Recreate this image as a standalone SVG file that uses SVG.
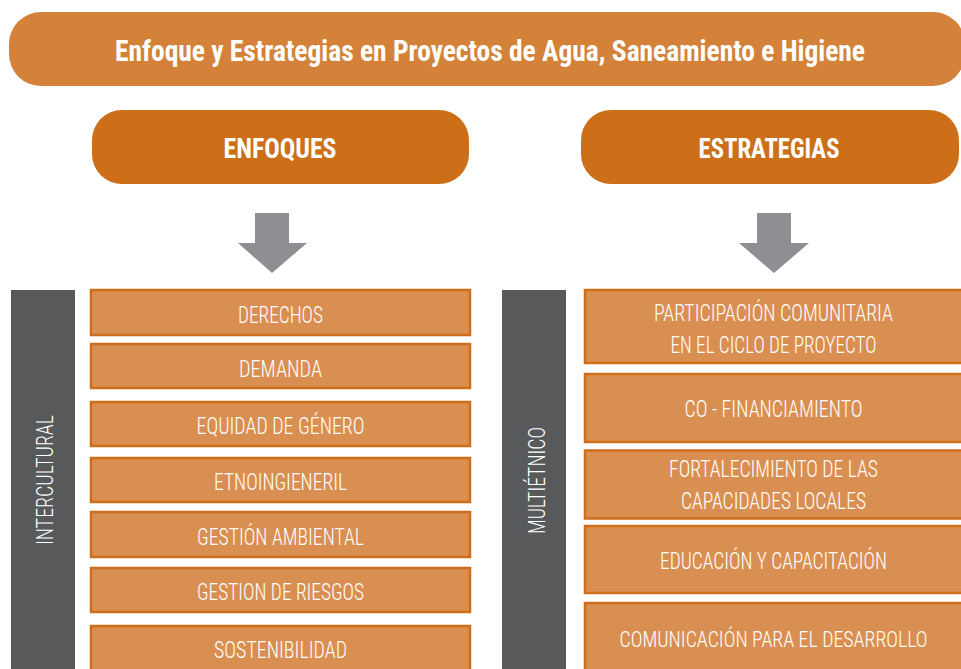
<svg xmlns="http://www.w3.org/2000/svg" width="961" height="669" viewBox="0 0 961 669">
<style>
.hdr{font-family:"Roboto Condensed","Noto Sans ExtraCondensed","Noto Sans Condensed","DejaVu Sans Condensed","Liberation Sans Narrow",sans-serif;font-stretch:condensed;font-weight:bold;fill:#ffffff;text-anchor:middle}
.itm{font-family:"Roboto Condensed","Noto Sans ExtraCondensed","Noto Sans Condensed","DejaVu Sans Condensed","Liberation Sans Narrow",sans-serif;font-stretch:condensed;font-weight:300;font-size:24px;fill:#ffffff;text-anchor:middle}
.box{fill:#DA8F52;stroke:#CE6E1B;stroke-width:2.5}
.bar{fill:#58595B}
.arr{fill:#8E8F92}
</style>
<rect width="961" height="669" fill="#ffffff"/>
<g id="title">
<rect x="9" y="12" width="956" height="74" rx="32" fill="#D4823A"/>
<text class="hdr" x="490" y="61" font-size="29" textLength="750" lengthAdjust="spacingAndGlyphs">Enfoque y Estrategias en Proyectos de Agua, Saneamiento e Higiene</text>
</g>
<g id="enfoques">
<rect x="92" y="110" width="377" height="74" rx="30" fill="#CC6F18"/>
<text class="hdr" x="280" y="158" font-size="28" textLength="113" lengthAdjust="spacingAndGlyphs">ENFOQUES</text>
</g>
<g id="estrategias">
<rect x="581" y="110" width="378" height="74" rx="30" fill="#CC6F18"/>
<text class="hdr" x="769" y="158" font-size="28" textLength="141" lengthAdjust="spacingAndGlyphs">ESTRATEGIAS</text>
</g>
<g id="connectors">
<polygon class="arr" points="255,213 289,213 289,243 307,243 272,273 238,243 255,243"/>
<polygon class="arr" points="757,213 791,213 791,243 809,243 774,273 739,243 757,243"/>
</g>
<g id="intercultural">
<rect class="bar" x="11" y="290" width="64" height="385"/>
<text class="itm" transform="translate(53,480) rotate(-90)" textLength="130" lengthAdjust="spacingAndGlyphs">INTERCULTURAL</text>
</g>
<g id="derechos">
<rect class="box" x="91" y="290" width="379" height="45"/>
<text class="itm" x="280.5" y="323" textLength="85" lengthAdjust="spacingAndGlyphs">DERECHOS</text>
</g>
<g id="demanda">
<rect class="box" x="91" y="344" width="379" height="44"/>
<text class="itm" x="280.5" y="376.5" textLength="83" lengthAdjust="spacingAndGlyphs">DEMANDA</text>
</g>
<g id="equidad">
<rect class="box" x="91" y="402" width="379" height="44"/>
<text class="itm" x="280.5" y="434" textLength="168" lengthAdjust="spacingAndGlyphs">EQUIDAD DE GÉNERO</text>
</g>
<g id="etnoingienieril">
<rect class="box" x="91" y="458" width="379" height="44"/>
<text class="itm" x="280.5" y="490" textLength="133" lengthAdjust="spacingAndGlyphs">ETNOINGIENERIL</text>
</g>
<g id="gestion-ambiental">
<rect class="box" x="91" y="512" width="379" height="45"/>
<text class="itm" x="280.5" y="545" textLength="167" lengthAdjust="spacingAndGlyphs">GESTIÓN AMBIENTAL</text>
</g>
<g id="gestion-riesgos">
<rect class="box" x="91" y="568" width="379" height="44"/>
<text class="itm" x="280.5" y="600" textLength="167" lengthAdjust="spacingAndGlyphs">GESTION DE RIESGOS</text>
</g>
<g id="sostenibilidad">
<rect class="box" x="91" y="626" width="379" height="50"/>
<text class="itm" x="280.5" y="657.5" textLength="133" lengthAdjust="spacingAndGlyphs">SOSTENIBILIDAD</text>
</g>
<g id="multietnico">
<rect class="bar" x="502" y="290" width="64" height="385"/>
<text class="itm" transform="translate(545,480.5) rotate(-90)" textLength="107" lengthAdjust="spacingAndGlyphs">MULTIÉTNICO</text>
</g>
<g id="participacion">
<rect class="box" x="585" y="290" width="380" height="73"/>
<text class="itm" x="773.5" y="320.5" textLength="239" lengthAdjust="spacingAndGlyphs">PARTICIPACIÓN COMUNITARIA</text>
<text class="itm" x="773.5" y="352.5" textLength="206" lengthAdjust="spacingAndGlyphs">EN EL CICLO DE PROYECTO</text>
</g>
<g id="cofinanciamiento">
<rect class="box" x="585" y="374" width="380" height="68"/>
<text class="itm" x="773.5" y="417" textLength="178" lengthAdjust="spacingAndGlyphs">CO - FINANCIAMIENTO</text>
</g>
<g id="fortalecimiento">
<rect class="box" x="585" y="450.5" width="380" height="68"/>
<text class="itm" x="773.5" y="477" textLength="209" lengthAdjust="spacingAndGlyphs">FORTALECIMIENTO DE LAS</text>
<text class="itm" x="773.5" y="509" textLength="185" lengthAdjust="spacingAndGlyphs">CAPACIDADES LOCALES</text>
</g>
<g id="educacion">
<rect class="box" x="585" y="526" width="380" height="67"/>
<text class="itm" x="773.5" y="569" textLength="227" lengthAdjust="spacingAndGlyphs">EDUCACIÓN Y CAPACITACIÓN</text>
</g>
<g id="comunicacion">
<rect class="box" x="585" y="603" width="380" height="72"/>
<text class="itm" x="773.5" y="646.5" font-size="22" style="font-size:22px" textLength="308" lengthAdjust="spacingAndGlyphs">COMUNICACIÓN PARA EL DESARROLLO</text>
</g>
</svg>
